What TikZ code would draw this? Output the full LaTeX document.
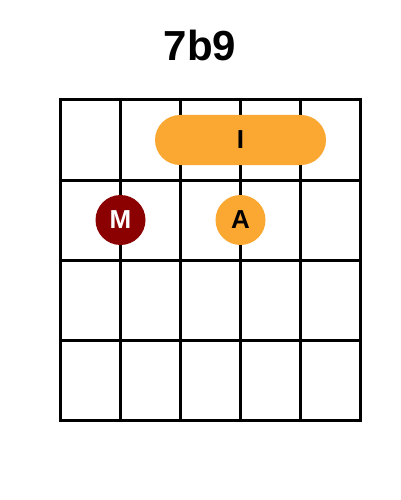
\documentclass[tikz,border=0pt]{standalone}
\usepackage{fontspec}
\setmainfont{Liberation Sans}
\definecolor{barorange}{HTML}{FBA832}
\definecolor{fingerred}{HTML}{8B0000}
\begin{document}
\begin{tikzpicture}[x=1pt,y=-1pt,
  gridline/.style={line width=3pt,line cap=rect},
  dot/.style={circle,minimum size=50pt,inner sep=0pt,font=\fontsize{26}{26}\selectfont\bfseries},
  barre/.style={rounded corners=25pt,fill=barorange}]
\useasboundingbox (0,0) rectangle (400,500);
\node[font=\fontsize{42}{42}\selectfont\bfseries] (title) at (200,45) {7b9};
\foreach \x in {60,120,180,240,300,360} \draw[gridline] (\x,100) -- (\x,420);
\foreach \y in {100,180,260,340,420} \draw[gridline] (60,\y) -- (360,\y);
\fill[barre] (155,115) rectangle (326,165);
\node[font=\fontsize{26}{26}\selectfont\bfseries] (bI) at (240.5,140) {I};
\node[dot,fill=fingerred,text=white] (m) at (120.5,220) {M};
\node[dot,fill=barorange,text=black] (a) at (240.5,220) {A};
\end{tikzpicture}
\end{document}
